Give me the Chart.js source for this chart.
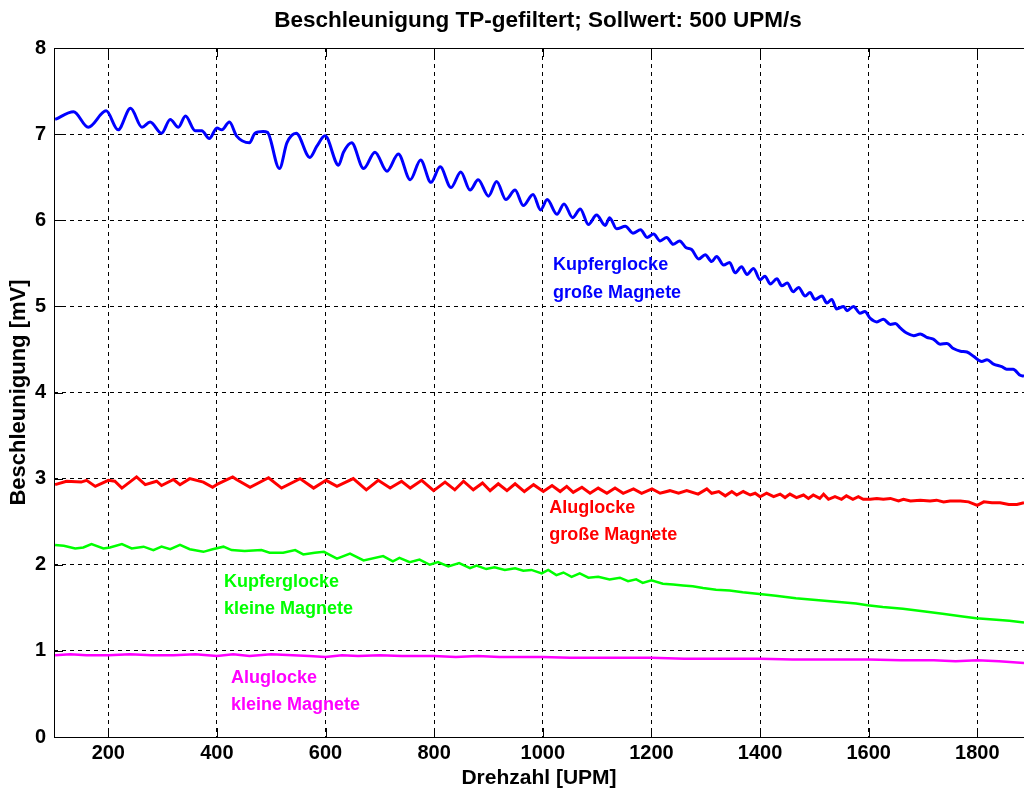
<!DOCTYPE html>
<html>
<head>
<meta charset="utf-8">
<script src="https://cdn.jsdelivr.net/npm/chart.js"></script>
<style>
  html, body { margin: 0; padding: 0; background: #fff; }
  #wrap { width: 1024px; height: 795px; position: relative; }
</style>
</head>
<body>
<div id="wrap"><canvas id="accelChart"></canvas></div>
<script>
// values: [Drehzahl (UPM), Beschleunigung (mV)]
const kupferGross = [
  [102,7.17],[136,7.26],[163,7.08],[196,7.27],[218,7.05],[241,7.30],[262,7.08],[277,7.14],[298,7.01],[314,7.17],
  [329,7.08],[342,7.21],[360,7.04],[372,7.04],[386,6.95],[400,7.07],[409,7.05],[423,7.14],[436,6.98],[460,6.90],
  [470,7.01],[485,7.03],[493,7.02],[515,6.60],[529,6.90],[546,7.01],[571,6.73],[584,6.86],[599,6.98],[624,6.64],
  [633,6.79],[648,6.90],[670,6.60],[691,6.79],[713,6.57],[734,6.77],[756,6.47],[775,6.70],[794,6.44],[811,6.62],
  [831,6.38],[849,6.56],[866,6.35],[881,6.47],[900,6.28],[915,6.45],[932,6.24],[949,6.35],[964,6.17],[982,6.30],
  [996,6.12],[1008,6.24],[1026,6.07],[1039,6.19],[1055,6.03],[1069,6.13],[1084,5.95],[1099,6.06],[1115,5.94],[1123,6.03],
  [1136,5.90],[1152,5.93],[1166,5.85],[1180,5.89],[1192,5.80],[1204,5.84],[1216,5.76],[1228,5.80],[1240,5.72],[1252,5.76],
  [1264,5.68],[1274,5.66],[1287,5.55],[1299,5.60],[1311,5.52],[1320,5.58],[1333,5.48],[1344,5.51],[1354,5.39],[1366,5.46],
  [1376,5.37],[1388,5.44],[1400,5.31],[1409,5.35],[1419,5.26],[1431,5.32],[1440,5.24],[1450,5.27],[1461,5.17],[1471,5.22],
  [1483,5.12],[1492,5.16],[1501,5.08],[1514,5.12],[1523,5.04],[1532,5.08],[1541,4.97],[1554,5.00],[1560,4.95],[1572,5.00],
  [1584,4.92],[1593,4.94],[1603,4.86],[1615,4.82],[1627,4.85],[1640,4.79],[1649,4.80],[1658,4.75],[1670,4.69],[1683,4.66],
  [1695,4.68],[1707,4.64],[1719,4.62],[1732,4.56],[1744,4.57],[1756,4.51],[1769,4.48],[1781,4.47],[1793,4.42],[1808,4.36],
  [1818,4.38],[1830,4.33],[1845,4.30],[1854,4.27],[1866,4.27],[1879,4.20],[1886,4.19]
];
const aluGross = [
  [102,2.93],[123,2.97],[150,2.96],[160,2.98],[176,2.91],[200,2.98],[212,2.97],[225,2.89],[252,3.02],[268,2.93],
  [289,2.97],[298,2.92],[320,2.99],[332,2.93],[350,3.00],[375,2.96],[392,2.90],[402,2.94],[429,3.02],[436,2.99],
  [461,2.90],[495,3.01],[519,2.89],[553,3.00],[578,2.89],[601,2.98],[621,2.91],[651,3.00],[675,2.87],[697,2.98],
  [719,2.89],[740,2.97],[756,2.89],[777,2.98],[799,2.86],[820,2.96],[838,2.87],[854,2.97],[872,2.87],[889,2.95],
  [903,2.86],[918,2.94],[934,2.86],[949,2.94],[966,2.85],[983,2.93],[1001,2.85],[1017,2.92],[1032,2.85],[1044,2.91],
  [1056,2.84],[1072,2.90],[1087,2.83],[1102,2.89],[1118,2.83],[1133,2.89],[1148,2.83],[1167,2.88],[1182,2.83],[1201,2.88],
  [1216,2.83],[1234,2.86],[1250,2.83],[1265,2.86],[1286,2.82],[1302,2.88],[1311,2.83],[1324,2.85],[1336,2.80],[1348,2.85],
  [1357,2.81],[1369,2.85],[1382,2.81],[1391,2.83],[1400,2.79],[1412,2.83],[1425,2.79],[1437,2.82],[1446,2.78],[1455,2.82],
  [1467,2.78],[1480,2.81],[1489,2.77],[1498,2.81],[1510,2.77],[1517,2.82],[1526,2.76],[1538,2.79],[1550,2.76],[1559,2.80],
  [1571,2.76],[1581,2.79],[1590,2.76],[1603,2.76],[1615,2.77],[1627,2.76],[1640,2.77],[1655,2.74],[1664,2.76],[1677,2.74],
  [1695,2.75],[1713,2.74],[1725,2.75],[1738,2.73],[1750,2.74],[1769,2.74],[1784,2.73],[1800,2.69],[1812,2.73],[1827,2.72],
  [1842,2.72],[1858,2.70],[1873,2.70],[1886,2.72]
];
const kupferKlein = [
  [102,2.23],[118,2.22],[139,2.19],[154,2.20],[169,2.24],[191,2.19],[203,2.20],[225,2.24],[243,2.19],[265,2.21],
  [283,2.17],[298,2.21],[314,2.18],[332,2.23],[350,2.18],[375,2.15],[392,2.18],[412,2.21],[427,2.17],[451,2.16],
  [482,2.17],[497,2.14],[522,2.14],[544,2.17],[559,2.12],[580,2.14],[597,2.15],[621,2.07],[645,2.13],[670,2.05],
  [706,2.10],[724,2.04],[736,2.08],[755,2.03],[773,2.06],[792,2.00],[807,2.03],[826,1.98],[846,2.02],[866,1.96],
  [878,1.99],[896,1.95],[911,1.97],[930,1.94],[949,1.96],[964,1.93],[979,1.94],[998,1.90],[1010,1.94],[1025,1.88],
  [1038,1.91],[1053,1.86],[1068,1.90],[1084,1.85],[1102,1.86],[1123,1.83],[1142,1.85],[1157,1.81],[1172,1.83],[1184,1.79],
  [1200,1.82],[1221,1.78],[1240,1.77],[1258,1.76],[1276,1.75],[1295,1.73],[1319,1.71],[1344,1.70],[1368,1.68],[1399,1.66],
  [1429,1.64],[1466,1.61],[1503,1.59],[1540,1.57],[1577,1.55],[1598,1.53],[1626,1.51],[1663,1.49],[1700,1.46],[1736,1.43],
  [1773,1.40],[1798,1.38],[1835,1.36],[1859,1.35],[1886,1.33]
];
const aluKlein = [
  [102,0.95],[130,0.96],[160,0.95],[200,0.95],[240,0.96],[280,0.95],[320,0.95],[360,0.96],[400,0.94],[430,0.96],
  [460,0.94],[500,0.96],[540,0.95],[570,0.94],[600,0.93],[630,0.95],[660,0.94],[700,0.95],[740,0.94],[780,0.94],
  [800,0.94],[840,0.93],[880,0.94],[920,0.93],[960,0.93],[1000,0.93],[1050,0.92],[1100,0.92],[1150,0.92],[1200,0.92],
  [1260,0.91],[1320,0.91],[1400,0.91],[1460,0.90],[1520,0.90],[1600,0.90],[1660,0.89],[1720,0.89],[1760,0.88],[1800,0.89],
  [1840,0.88],[1886,0.86]
];
const xTicks = [200, 400, 600, 800, 1000, 1200, 1400, 1600, 1800];
const yTicks = [0, 1, 2, 3, 4, 5, 6, 7, 8];
const chartTitle = 'Beschleunigung TP-gefiltert; Sollwert: 500 UPM/s';

const FONT = "'Liberation Sans', Arial, sans-serif";

function toPoints(arr) {
  return arr.map(function(p) { return { x: p[0], y: p[1] }; });
}

// MATLAB-style box with inward tick marks, title centred over the axes
const boxPlugin = {
  id: 'box',
  afterDatasetsDraw(chart) {
    const ctx = chart.ctx;
    const a = chart.chartArea;
    const xs = chart.scales.x, ys = chart.scales.y;
    ctx.save();
    ctx.strokeStyle = '#000';
    ctx.lineWidth = 1;
    ctx.setLineDash([]);
    ctx.strokeRect(a.left + 0.5, a.top + 0.5, a.right - a.left, a.bottom - a.top);
    ctx.beginPath();
    xTicks.forEach(function(v) {
      const px = Math.round(xs.getPixelForValue(v)) + 0.5;
      ctx.moveTo(px, a.bottom); ctx.lineTo(px, a.bottom - 9);
      ctx.moveTo(px, a.top); ctx.lineTo(px, a.top + 9);
    });
    yTicks.forEach(function(v) {
      const py = Math.round(ys.getPixelForValue(v)) + 0.5;
      ctx.moveTo(a.left, py); ctx.lineTo(a.left + 9, py);
    });
    ctx.stroke();

    ctx.fillStyle = '#000';
    ctx.font = 'bold 22.5px ' + FONT;
    ctx.textAlign = 'center';
    ctx.textBaseline = 'middle';
    ctx.fillText(chartTitle, (a.left + 1022) / 2, 21);
    ctx.restore();
  }
};

// text labels next to the curves
const labelPlugin = {
  id: 'curveLabels',
  afterDatasetsDraw(chart, args, opts) {
    const ctx = chart.ctx;
    const xs = chart.scales.x, ys = chart.scales.y;
    ctx.save();
    ctx.font = 'bold 18px ' + FONT;
    ctx.textAlign = 'left';
    ctx.textBaseline = 'middle';
    opts.items.forEach(function(it) {
      ctx.fillStyle = it.color;
      it.lines.forEach(function(line, i) {
        ctx.fillText(line, xs.getPixelForValue(it.x), ys.getPixelForValue(it.y[i]));
      });
    });
    ctx.restore();
  }
};

const ctx = document.getElementById('accelChart').getContext('2d');
const chart = new Chart(ctx, {
  type: 'line',
  data: {
    datasets: [
      { label: 'Kupferglocke große Magnete', data: toPoints(kupferGross), borderColor: '#0000ff', borderWidth: 3, cubicInterpolationMode: 'monotone' },
      { label: 'Aluglocke große Magnete', data: toPoints(aluGross), borderColor: '#ff0000', borderWidth: 3, tension: 0 },
      { label: 'Kupferglocke kleine Magnete', data: toPoints(kupferKlein), borderColor: '#00ff00', borderWidth: 2.5, tension: 0 },
      { label: 'Aluglocke kleine Magnete', data: toPoints(aluKlein), borderColor: '#ff00ff', borderWidth: 2.5, tension: 0 }
    ]
  },
  options: {
    responsive: true,
    maintainAspectRatio: false,
    animation: false,
    events: [],
    elements: { point: { radius: 0 } },
    layout: { padding: { left: 0, right: 0, top: 48, bottom: 0 } },
    plugins: {
      legend: { display: false },
      tooltip: { enabled: false },
      title: { display: false },
      curveLabels: {
        items: [
          { lines: ['Kupferglocke', 'große Magnete'], x: 1019, y: [5.48, 5.15], color: '#0000ff' },
          { lines: ['Aluglocke', 'große Magnete'], x: 1012, y: [2.66, 2.34], color: '#ff0000' },
          { lines: ['Kupferglocke', 'kleine Magnete'], x: 413, y: [1.80, 1.49], color: '#00ff00' },
          { lines: ['Aluglocke', 'kleine Magnete'], x: 426, y: [0.69, 0.37], color: '#ff00ff' }
        ]
      }
    },
    scales: {
      x: {
        type: 'linear',
        min: 100,
        max: 1886,
        afterBuildTicks: function(scale) { scale.ticks = xTicks.map(function(v) { return { value: v }; }); },
        afterFit: function(scale) { scale.height = 58; },
        grid: { color: '#000', lineWidth: 1, drawTicks: false },
        border: { display: false, dash: [4, 4] },
        ticks: {
          color: '#000', padding: 4, maxRotation: 0,
          font: { family: FONT, size: 20, weight: 'bold' },
          callback: function(v) { return String(v); }
        },
        title: { display: true, text: 'Drehzahl [UPM]', color: '#000', padding: { top: 0, bottom: 4 }, font: { family: FONT, size: 21, weight: 'bold' } }
      },
      y: {
        type: 'linear',
        min: 0,
        max: 8,
        afterBuildTicks: function(scale) { scale.ticks = yTicks.map(function(v) { return { value: v }; }); },
        afterFit: function(scale) { scale.width = 54; },
        grid: { color: '#000', lineWidth: 1, drawTicks: false },
        border: { display: false, dash: [4, 4] },
        ticks: {
          color: '#000', padding: 8,
          font: { family: FONT, size: 20, weight: 'bold' },
          callback: function(v) { return String(v); }
        },
        title: { display: true, text: 'Beschleunigung [mV]', color: '#000', padding: { top: 6, bottom: 0 }, font: { family: FONT, size: 22, weight: 'bold' } }
      }
    }
  },
  plugins: [boxPlugin, labelPlugin]
});
</script>
</body>
</html>
